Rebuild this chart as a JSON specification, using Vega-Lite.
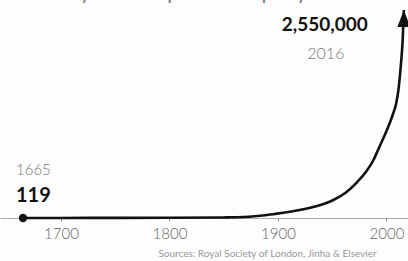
{
  "$schema": "https://vega.github.io/schema/vega-lite/v6.json",
  "width": 408,
  "height": 261,
  "autosize": {"type": "none"},
  "padding": 0,
  "background": "#fdfdfd",
  "config": {"view": {"stroke": null}, "font": "Lato"},
  "title": {
    "text": "Scholarly articles published per year",
    "anchor": "start",
    "orient": "top",
    "offset": -20,
    "dx": 7,
    "baseline": "alphabetic",
    "fontSize": 21,
    "fontWeight": "normal",
    "color": "#777777",
    "font": "Lato"
  },
  "datasets": {
    "curve": [
      {"year": 1665, "value": 119},
      {"year": 1700, "value": 600},
      {"year": 1750, "value": 1500},
      {"year": 1800, "value": 3000},
      {"year": 1850, "value": 7000},
      {"year": 1869, "value": 12000},
      {"year": 1890, "value": 37000},
      {"year": 1903, "value": 61000},
      {"year": 1920, "value": 98000},
      {"year": 1936, "value": 147000},
      {"year": 1951, "value": 221000},
      {"year": 1962, "value": 307000},
      {"year": 1973, "value": 441000},
      {"year": 1981, "value": 564000},
      {"year": 1988, "value": 711000},
      {"year": 1993, "value": 858000},
      {"year": 1998, "value": 1005000},
      {"year": 2003, "value": 1165000},
      {"year": 2006, "value": 1275000},
      {"year": 2009, "value": 1410000},
      {"year": 2011, "value": 1569000},
      {"year": 2013, "value": 1839000},
      {"year": 2015, "value": 2207000},
      {"year": 2016, "value": 2550000}
    ],
    "ends": [
      {"year": 1665, "value": 119, "label": "119", "yearLabel": "1665", "side": "start"},
      {"year": 2016, "value": 2550000, "label": "2,550,000", "yearLabel": "2016", "side": "end"}
    ]
  },
  "encoding": {
    "x": {
      "field": "year",
      "type": "quantitative",
      "scale": {"domain": [1643.78, 2019.82], "nice": false, "zero": false},
      "axis": {
        "values": [1700, 1800, 1900, 2000],
        "format": "d",
        "grid": false,
        "offset": -43,
        "domainColor": "#aaaaaa",
        "domainWidth": 1,
        "tickColor": "#888888",
        "tickSize": 3,
        "labelPadding": 5,
        "labelFontSize": 15,
        "labelColor": "#666666",
        "labelFont": "Lato",
        "labelFontWeight": 300,
        "title": "Sources: Royal Society of London, Jinha & Elsevier",
        "titleFontSize": 10,
        "titleFontWeight": "normal",
        "titleColor": "#999999",
        "titleFont": "Lato",
        "titleX": 267,
        "titleY": 35,
        "titleAlign": "center",
        "titleBaseline": "middle"
      }
    },
    "y": {
      "field": "value",
      "type": "quantitative",
      "scale": {"domain": [-527163, 2672596], "nice": false, "zero": false},
      "axis": null
    }
  },
  "layer": [
    {
      "data": {"name": "curve"},
      "mark": {"type": "line", "color": "#111111", "strokeWidth": 2.6, "interpolate": "monotone"}
    },
    {
      "data": {"name": "ends"},
      "transform": [{"filter": "datum.side === 'start'"}],
      "mark": {"type": "point", "shape": "circle", "filled": true, "size": 70, "color": "#111111", "opacity": 1}
    },
    {
      "data": {"name": "ends"},
      "transform": [{"filter": "datum.side === 'end'"}],
      "mark": {"type": "point", "shape": "M0,0L0.38,1L-0.38,1Z", "filled": true, "size": 1156, "color": "#111111", "opacity": 1}
    },
    {
      "data": {"name": "ends"},
      "transform": [{"filter": "datum.side === 'start'"}],
      "mark": {"type": "text", "align": "left", "baseline": "middle", "dx": -7, "dy": -48, "fontSize": 15, "font": "Lato", "fontWeight": 300, "color": "#777777"},
      "encoding": {"text": {"field": "yearLabel"}}
    },
    {
      "data": {"name": "ends"},
      "transform": [{"filter": "datum.side === 'start'"}],
      "mark": {"type": "text", "align": "left", "baseline": "middle", "dx": -7, "dy": -22, "fontSize": 20, "font": "Lato", "fontWeight": "bold", "color": "#111111"},
      "encoding": {"text": {"field": "label"}}
    },
    {
      "data": {"name": "ends"},
      "transform": [{"filter": "datum.side === 'end'"}],
      "mark": {"type": "text", "align": "center", "baseline": "middle", "dx": -79, "dy": 15, "fontSize": 19, "font": "Lato", "fontWeight": "bold", "color": "#111111"},
      "encoding": {"text": {"field": "label"}}
    },
    {
      "data": {"name": "ends"},
      "transform": [{"filter": "datum.side === 'end'"}],
      "mark": {"type": "text", "align": "center", "baseline": "middle", "dx": -78, "dy": 44, "fontSize": 16, "font": "Lato", "fontWeight": 300, "color": "#777777"},
      "encoding": {"text": {"field": "yearLabel"}}
    }
  ]
}
